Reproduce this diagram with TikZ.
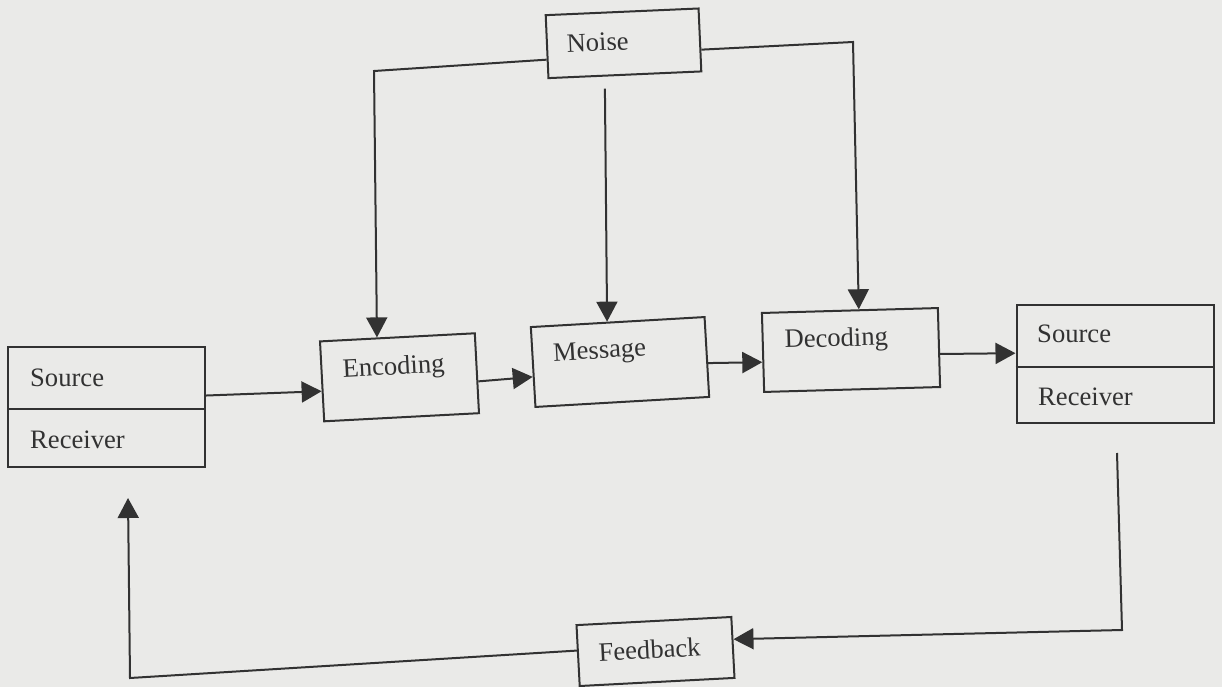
\documentclass[tikz,border=0pt]{standalone}
\usepackage{fontspec}
\setmainfont{Liberation Serif}
\usetikzlibrary{arrows.meta,calc}
\definecolor{paper}{RGB}{234,234,232}
\definecolor{ink}{RGB}{50,50,50}
\definecolor{txt}{RGB}{50,50,50}
\begin{document}
\begin{tikzpicture}[x=1pt,y=-1pt,
  box/.style={draw=ink,line width=2pt,rectangle,inner sep=0pt},
  lbl/.style={text=txt,font=\fontsize{26.6}{30}\selectfont,inner sep=0pt,anchor=base},
  side/.style={lbl,anchor=base west},
  flow/.style={draw=ink,line width=2pt,line join=miter,-{Triangle[length=20pt,width=21pt]}},
  wire/.style={draw=ink,line width=2pt,line join=miter}
]
% page
\fill[paper] (0,0) rectangle (1222,687);
\useasboundingbox (0,0) rectangle (1222,687);

% boxes
\node[box,minimum width=197pt,minimum height=120pt] (srcL) at (106.5,406.5) {};
\node[box,minimum width=197pt,minimum height=118pt] (srcR) at (1115,364) {};
\node[box,minimum width=153pt,minimum height=63pt,rotate=2.5] (noise) at (623.5,43.3) {};
\node[box,minimum width=155pt,minimum height=80pt,rotate=3] (enc) at (399.5,377.3) {};
\node[box,minimum width=174pt,minimum height=80pt,rotate=3.3] (msg) at (620,362) {};
\node[box,minimum width=176pt,minimum height=79pt,rotate=1.6] (dec) at (851,350) {};
\node[box,minimum width=155pt,minimum height=61pt,rotate=3] (fb) at (655.5,651.5) {};

% dividers of the two split boxes
\draw[wire] ($(srcL.north west)!0.52!(srcL.south west)$) -- ($(srcL.north east)!0.52!(srcL.south east)$);
\draw[wire] ($(srcR.north west)!0.525!(srcR.south west)$) -- ($(srcR.north east)!0.525!(srcR.south east)$);

% labels
\node[side] (srcLs) at (30,386) {Source};
\node[side] (srcLr) at (30,448) {Receiver};
\node[side] (srcRs) at (1037,342) {Source};
\node[side] (srcRr) at (1038,405) {Receiver};
\node[lbl,rotate=2.5] (noiseT) at (598,51) {Noise};
\node[lbl,rotate=3] (encT) at (394,374.5) {Encoding};
\node[lbl,rotate=3.3] (msgT) at (600,358.5) {Message};
\node[lbl,rotate=1.6] (decT) at (836.5,346.5) {Decoding};
\node[lbl,rotate=3] (fbT) at (650,658.5) {Feedback};

% corners and free ends of the connectors
\coordinate (nL) at (374,71);
\coordinate (nR) at (853,42);
\coordinate (fbTop) at (1117,453);
\coordinate (fbC1) at (1122,630);
\coordinate (fbC2) at (130,678);
\coordinate (fbTip) at (128,498);

% noise feeds
\draw[flow] ($(noise.north west)!0.7!(noise.south west)$) -- (nL)
  -- ($(enc.north west)!0.37!(enc.north east)$);
\draw[flow] ($(noise.north east)!0.65!(noise.south east)$) -- (nR)
  -- ($(dec.north west)!0.55!(dec.north east)$);
\draw[flow,shorten <=12pt] ($(noise.south west)!0.37!(noise.south east)$)
  -- ($(msg.north west)!0.44!(msg.north east)$);

% main chain
\draw[flow] ($(srcL.north east)!0.41!(srcL.south east)$) -- ($(enc.north west)!0.62!(enc.south west)$);
\draw[flow] ($(enc.north east)!0.6!(enc.south east)$) -- ($(msg.north west)!0.62!(msg.south west)$);
\draw[flow] ($(msg.north east)!0.575!(msg.south east)$) -- ($(dec.north west)!0.62!(dec.south west)$);
\draw[flow] ($(dec.north east)!0.58!(dec.south east)$) -- ($(srcR.north west)!0.41!(srcR.south west)$);

% feedback loop
\draw[flow] (fbTop) -- (fbC1) -- ($(fb.north east)!0.37!(fb.south east)$);
\draw[flow] ($(fb.north west)!0.42!(fb.south west)$) -- (fbC2) -- (fbTip);
\end{tikzpicture}
\end{document}
